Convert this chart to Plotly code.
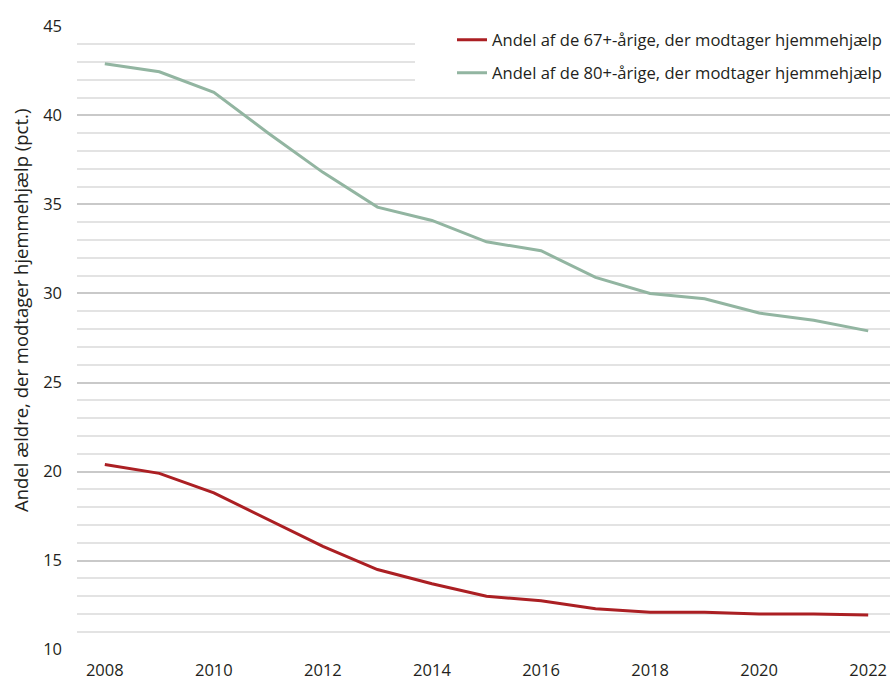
import plotly.graph_objects as go

years = list(range(2008, 2023))
andel_67 = [20.4, 19.9, 18.8, 17.3, 15.8, 14.5, 13.7, 13.0, 12.75, 12.3, 12.1, 12.1, 12.0, 12.0, 11.95]
andel_80 = [42.9, 42.45, 41.3, 39.0, 36.8, 34.85, 34.1, 32.9, 32.4, 30.9, 30.0, 29.7, 28.9, 28.5, 27.9]
name_67 = "Andel af de 67+-årige, der modtager hjemmehjælp"
name_80 = "Andel af de 80+-årige, der modtager hjemmehjælp"
y_title = "Andel ældre, der modtager hjemmehjælp (pct.)"
x_ticks = [2008, 2010, 2012, 2014, 2016, 2018, 2020, 2022]
y_ticks = [10, 15, 20, 25, 30, 35, 40, 45]

font_family = "Open Sans, Noto Sans, sans-serif"
text_color = "#231f20"

# plot-area geometry in pixels (for paper-coordinate placement)
L, R, T, B = 77, 890, 26, 650
PW, PH = R - L, B - T

fig = go.Figure()
fig.add_trace(go.Scatter(x=years, y=andel_67, mode="lines", name=name_67,
                         line=dict(color="#ab1f23", width=3), legend="legend"))
fig.add_trace(go.Scatter(x=years, y=andel_80, mode="lines", name=name_80,
                         line=dict(color="#92b5a1", width=3), legend="legend2"))

# white background behind the legend block
fig.add_shape(type="rect", xref="paper", yref="paper",
              x0=(415 - L) / PW, x1=1.0, y0=(B - 90) / PH, y1=1.05,
              fillcolor="white", line=dict(width=0), layer="above")

# y-axis title as rotated annotation
fig.add_annotation(text=y_title, textangle=-90, xref="paper", yref="paper",
                   x=(20 - L) / PW, y=(B - 311) / PH, xanchor="center", yanchor="middle",
                   showarrow=False, font=dict(size=18.5, color=text_color))

leg_x = (452 - L) / PW
fig.update_layout(
    width=890, height=680,
    margin=dict(l=L, r=890 - R, t=T, b=680 - B, autoexpand=False),
    paper_bgcolor="white", plot_bgcolor="white",
    font=dict(family=font_family, size=16, color=text_color),
    showlegend=True,
    legend=dict(x=leg_x, y=(B - 40) / PH, xanchor="left", yanchor="middle",
                bgcolor="rgba(0,0,0,0)", font=dict(size=16.6, color=text_color)),
    legend2=dict(x=leg_x, y=(B - 73) / PH, xanchor="left", yanchor="middle",
                 bgcolor="rgba(0,0,0,0)", font=dict(size=16.6, color=text_color)),
    xaxis=dict(range=[2007.49, 2022.4], tickvals=x_ticks, showgrid=False,
               zeroline=False, showline=False, ticks="", ticklabelstandoff=8,
               tickfont=dict(size=16.5)),
    yaxis=dict(range=[9.98, 45.02], tickvals=y_ticks, showgrid=True,
               gridcolor="#c9c9c9", gridwidth=2, zeroline=False, showline=False,
               ticks="", ticklabelstandoff=14,
               minor=dict(dtick=1, showgrid=True, gridcolor="#e3e3e3", gridwidth=2),
               tickfont=dict(size=16.5)),
)

fig.write_html("out.html", config={"displayModeBar": False},
               post_script="document.body.style.margin='0';document.body.style.overflow='hidden';")
